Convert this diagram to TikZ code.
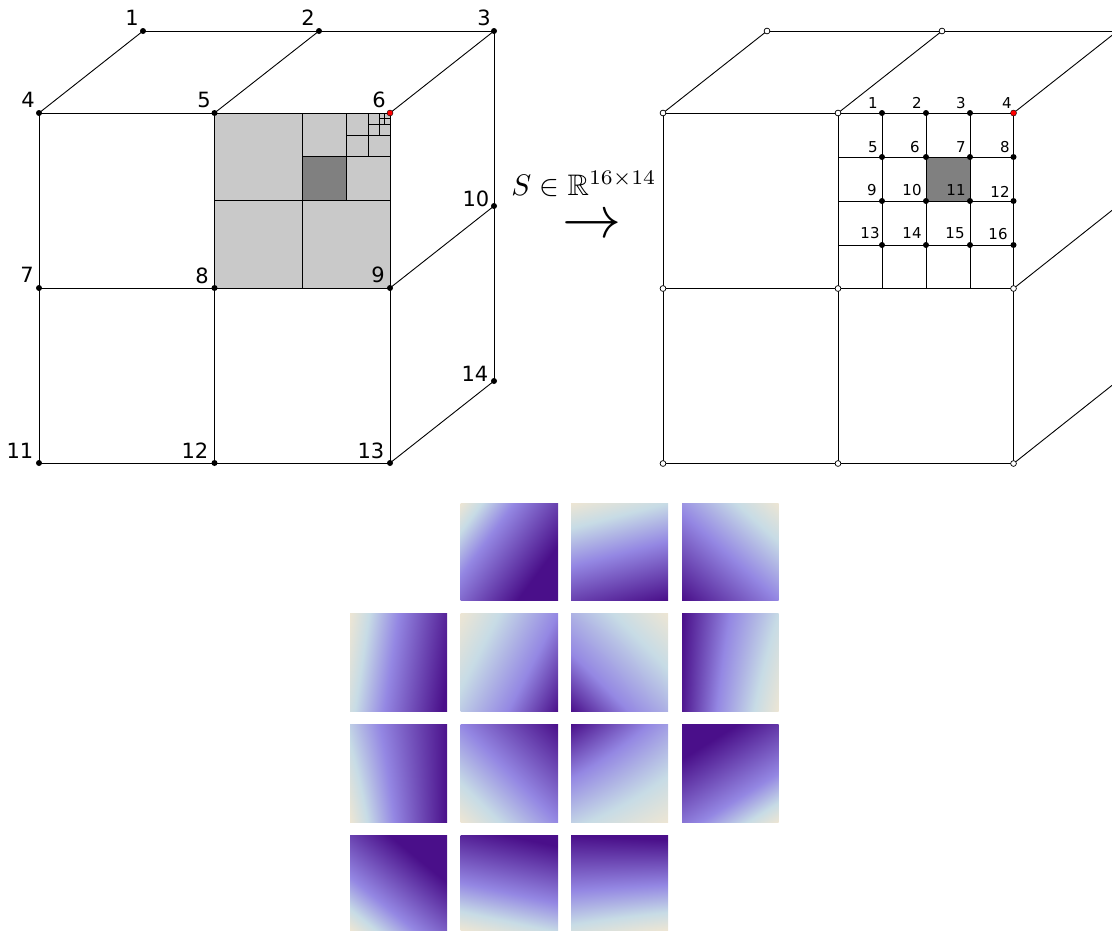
\documentclass[tikz,border=0pt]{standalone}
\usepackage{amssymb}
\usepackage{fontspec}
\setmainfont{DejaVu Sans}
\usetikzlibrary{backgrounds}
\newcommand{\defsq}[6]{% name TL TR BL BR top-of-ramp
  \pgfmathsetmacro\cA{#4}%
  \pgfmathsetmacro\cB{#5-(#4)}%
  \pgfmathsetmacro\cC{#2-(#4)}%
  \pgfmathsetmacro\cD{#3+#4-#2-#5}%
  \pgfmathsetmacro\cW{#6-0.5}%
  \edef\tmpdecl{\noexpand\pgfdeclarefunctionalshading{#1}{\noexpand\pgfpoint{0bp}{0bp}}{\noexpand\pgfpoint{100bp}{100bp}}{}{%
    25 sub 50 div exch 25 sub 50 div exch
    1 index \cD\space mul \cC\space add mul
    exch \cB\space mul add \cA\space add
    dup 0 lt {pop 0} if dup #6 gt {pop #6} if
    dup 0.2 lt {0.2 div dup -0.15 mul 0.93 add exch dup -0.04 mul 0.90 add exch 0.07 mul 0.83 add}{dup 0.5 lt {0.2 sub 0.3 div dup -0.20 mul 0.78 add exch dup -0.33 mul 0.86 add exch -0.01 mul 0.90 add}{0.5 sub \cW\space div dup -0.29 mul 0.58 add exch dup -0.47 mul 0.53 add exch -0.35 mul 0.89 add} ifelse} ifelse}}%
  \tmpdecl}
\defsq{sqA}{0}{0.91}{0.67}{1.58}{1.2}
\defsq{sqB}{0}{0.2}{0.77}{0.97}{0.97}
\defsq{sqC}{0.45}{0}{0.95}{0.5}{0.95}
\defsq{sqD}{0}{1}{0.15}{1.15}{1.1}
\defsq{sqE}{0}{0.5}{0.26}{0.76}{0.76}
\defsq{sqF}{0.35}{0}{0.72}{0.35}{0.72}
\defsq{sqG}{0.8}{0.2}{0.78}{0}{0.8}
\defsq{sqH}{0.25}{1.08}{0}{1.1}{1.1}
\defsq{sqI}{0.5}{1}{0}{0.5}{1}
\defsq{sqJ}{0.82}{0.42}{0.24}{0}{0.82}
\defsq{sqK}{1.6}{1}{0.62}{0}{1.25}
\defsq{sqL}{0.9}{1.65}{0}{0.75}{1.2}
\defsq{sqM}{1}{1.22}{0}{0.22}{1.1}
\defsq{sqN}{1}{1.05}{0.15}{0}{1}
\tikzset{
  blackdot/.style={circle,fill=black,inner sep=0pt,minimum size=6pt},
  opendot/.style={circle,fill=white,draw=black,line width=0.7pt,inner sep=0pt,minimum size=5.8pt},
  reddot/.style={circle,fill=red,draw=black,line width=0.4pt,inner sep=0pt,minimum size=6pt},
  wire/.style={draw=black,line width=0.9pt},
  thinwire/.style={draw=black,line width=0.7pt},
  biglabel/.style={font=\fontsize{21}{21}\selectfont,inner sep=0pt},
  smalllabel/.style={font=\fontsize{15}{15}\selectfont,inner sep=0pt},
  lightcell/.style={fill=black!21,draw=none},
  darkcell/.style={fill=black!50,draw=none}
}
\begin{document}
\begin{tikzpicture}[x=1pt,y=-1pt]
\useasboundingbox (0,0) rectangle (1112,930);
\clip (0,0) rectangle (1112,930);
% ---- left block vertices
\foreach \n/\px/\py in {1/143/31,2/319/31,3/494/31,4/39/113,5/214.5/113,7/39/288,8/214.5/288,9/390/288,10/494/206,11/39/463,12/214.5/463,13/390/463,14/494/381}
  \node[blackdot] (L\n) at (\px,\py) {};
\node[reddot] (L6) at (390,113) {};
\foreach \n/\px/\py in {1/132/18,2/308/18,3/484/18,4/28/100,5/204/100,6/379/100,7/27/275,8/202/276,9/378/275,10/476/199,11/20/451,12/195/451,13/371/451,14/475/374}
  \node[biglabel] (Lt\n) at (\px,\py) {\n};
% ---- right block vertices
\foreach \n/\px/\py in {a/767/31,b/942/31,c/663/113,d/838/113,e/663/288.5,f/838/288.5,g/1013.5/288.5,h/663/463.5,i/838/463.5,j/1013.5/463.5}
  \node[opendot] (R\n) at (\px,\py) {};
\coordinate (Rk) at (1117.5,31);
\coordinate (Rl) at (1117.5,206);
\coordinate (Rm) at (1117.5,381);
\foreach \n/\px/\py in {1/882/113,2/926/113,3/970/113,5/882/157,6/926/157,7/970/157,8/1013.5/157,9/882/201,10/926/201,11/970/201,12/1013.5/201,13/882/245,14/926/245,15/970/245,16/1013.5/245}
  \node[blackdot] (G\n) at (\px,\py) {};
\node[reddot] (G4) at (1013.5,113) {};
\foreach \n/\px/\py in {1/873/103,2/917/103,3/961/103,4/1007/103,5/873/147,6/915/147,7/961/147,8/1005/147,9/872/190,10/912/190,11/956/190,12/1000/192,13/870/233,14/912/233,15/955/233,16/998/234}
  \node[smalllabel] (Gt\n) at (\px,\py) {\n};
\coordinate (Gl5) at (838,157);
\coordinate (Gl9) at (838,201);
\coordinate (Gl13) at (838,245);
\coordinate (Gb1) at (882,288.5);
\coordinate (Gb2) at (926,288.5);
\coordinate (Gb3) at (970,288.5);
\begin{scope}[on background layer]
  % quadtree fills and lines
  \path[lightcell] (L5.center) rectangle (L9.center);
  \path[darkcell] (302,156.5) rectangle (346,200);
  \draw[thinwire] (302,113) -- (302,288);
  \draw[thinwire] (214.5,200) -- (390,200);
  \draw[thinwire] (346,113) -- (346,200);
  \draw[thinwire] (302,156.5) -- (390,156.5);
  \draw[thinwire] (368,113) -- (368,156.5);
  \draw[thinwire] (346,135) -- (390,135);
  \draw[thinwire] (379,113) -- (379,135);
  \draw[thinwire] (368,124) -- (390,124);
  \draw[thinwire] (384.7,113) -- (384.7,124);
  \draw[thinwire] (379,118.5) -- (390,118.5);
  % left wireframe
  \draw[wire] (L4.center) -- (L6.center);
  \draw[wire] (L7.center) -- (L9.center);
  \draw[wire] (L11.center) -- (L13.center);
  \draw[wire] (L4.center) -- (L11.center);
  \draw[wire] (L5.center) -- (L12.center);
  \draw[wire] (L6.center) -- (L13.center);
  \draw[wire] (L1.center) -- (L3.center);
  \draw[wire] (L3.center) -- (L14.center);
  \draw[wire] (L4.center) -- (L1.center);
  \draw[wire] (L5.center) -- (L2.center);
  \draw[wire] (L6.center) -- (L3.center);
  \draw[wire] (L9.center) -- (L10.center);
  \draw[wire] (L13.center) -- (L14.center);
  % right wireframe
  \path[darkcell] (G6.center) rectangle (G11.center);
  \draw[wire] (Rc.center) -- (G4.center);
  \draw[wire] (Re.center) -- (Rg.center);
  \draw[wire] (Rh.center) -- (Rj.center);
  \draw[wire] (Rc.center) -- (Rh.center);
  \draw[wire] (Rd.center) -- (Ri.center);
  \draw[wire] (G4.center) -- (Rj.center);
  \draw[wire] (Ra.center) -- (Rk);
  \draw[wire] (Rc.center) -- (Ra.center);
  \draw[wire] (Rd.center) -- (Rb.center);
  \draw[wire] (G4.center) -- (Rk);
  \draw[wire] (Rg.center) -- (Rl);
  \draw[wire] (Rj.center) -- (Rm);
  % right grid
  \draw[wire] (Gl5) -- (G8.center);
  \draw[wire] (Gl9) -- (G12.center);
  \draw[wire] (Gl13) -- (G16.center);
  \draw[wire] (G1.center) -- (Gb1);
  \draw[wire] (G2.center) -- (Gb2);
  \draw[wire] (G3.center) -- (Gb3);
\end{scope}
% ---- formula and arrow
\node[inner sep=0pt,scale=2.97] (formula) at (584,184) {$S\in\mathbb{R}^{16\times14}$};
\node[inner sep=0pt,scale=5.9] (maparrow) at (591.5,226.5) {$\rightarrow$};
% ---- heat squares
\foreach \s/\xa/\ya/\xb/\yb in {
  sqA/460.5/503/558/600, sqB/571/503/668/600, sqC/682/503/778.5/600,
  sqD/350/613.5/447/711.5, sqE/460.5/613.5/558/711.5, sqF/571/613.5/668/711.5, sqG/682/613.5/778.5/711.5,
  sqH/350/724/447/822, sqI/460.5/724/558/822, sqJ/571/724/668/822, sqK/682/724/778.5/822,
  sqL/350/835/447/930, sqM/460.5/835/558/930, sqN/571/835/668/930}
  \path[shading=\s] (\xa,\ya) rectangle (\xb,\yb);
\end{tikzpicture}
\end{document}
